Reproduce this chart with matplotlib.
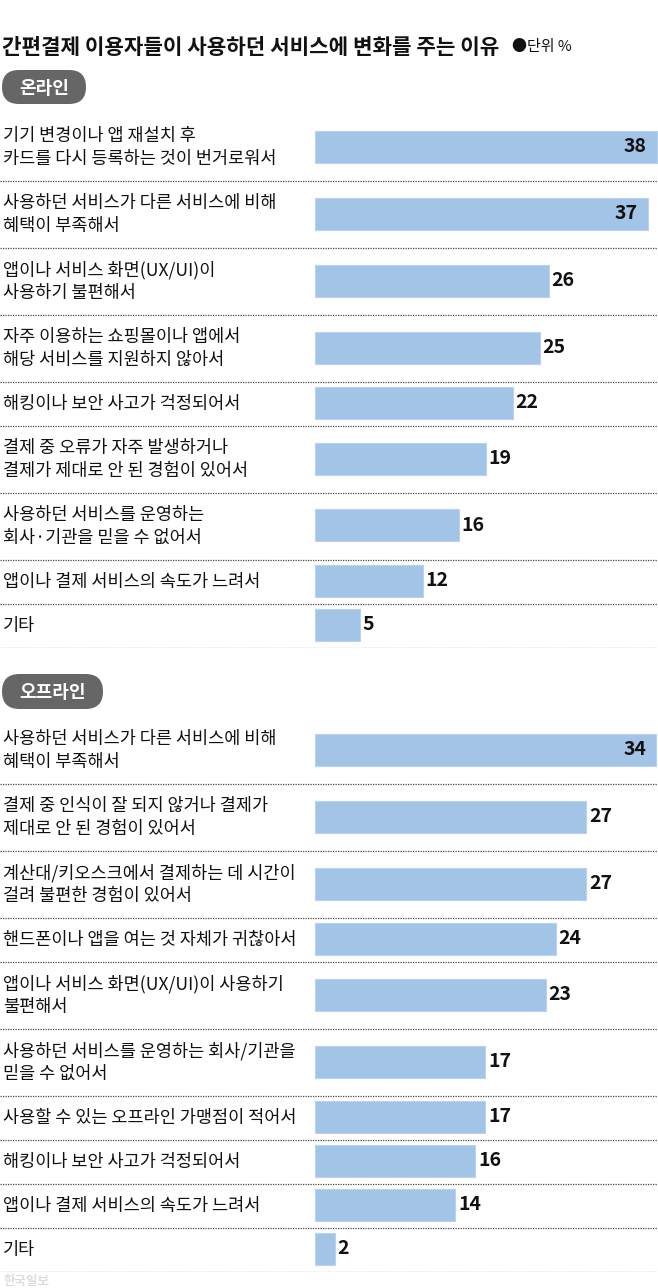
import matplotlib
matplotlib.use("Agg")
import matplotlib.pyplot as plt
from matplotlib.patches import FancyBboxPatch
from matplotlib.transforms import Affine2D, blended_transform_factory

plt.rcParams['font.family'] = ['Noto Sans CJK KR', 'DejaVu Sans']

title = "간편결제 이용자들이 사용하던 서비스에 변화를 주는 이유"
unit = "●단위 %"

online_labels = [
    "기기 변경이나 앱 재설치 후\n카드를 다시 등록하는 것이 번거로워서",
    "사용하던 서비스가 다른 서비스에 비해\n혜택이 부족해서",
    "앱이나 서비스 화면(UX/UI)이\n사용하기 불편해서",
    "자주 이용하는 쇼핑몰이나 앱에서\n해당 서비스를 지원하지 않아서",
    "해킹이나 보안 사고가 걱정되어서",
    "결제 중 오류가 자주 발생하거나\n결제가 제대로 안 된 경험이 있어서",
    "사용하던 서비스를 운영하는\n회사·기관을 믿을 수 없어서",
    "앱이나 결제 서비스의 속도가 느려서",
    "기타",
]
online_values = [38, 37, 26, 25, 22, 19, 16, 12, 5]

offline_labels = [
    "사용하던 서비스가 다른 서비스에 비해\n혜택이 부족해서",
    "결제 중 인식이 잘 되지 않거나 결제가\n제대로 안 된 경험이 있어서",
    "계산대/키오스크에서 결제하는 데 시간이\n걸려 불편한 경험이 있어서",
    "핸드폰이나 앱을 여는 것 자체가 귀찮아서",
    "앱이나 서비스 화면(UX/UI)이 사용하기\n불편해서",
    "사용하던 서비스를 운영하는 회사/기관을\n믿을 수 없어서",
    "사용할 수 있는 오프라인 가맹점이 적어서",
    "해킹이나 보안 사고가 걱정되어서",
    "앱이나 결제 서비스의 속도가 느려서",
    "기타",
]
offline_values = [34, 27, 27, 24, 23, 17, 17, 16, 14, 2]

W, H = 658, 1288
BAR_COLOR = "#a2c4e7"
fig = plt.figure(figsize=(W / 100, H / 100), dpi=100)

# pixel coords measured from top-left
pxt = Affine2D().scale(1, -1).translate(0, H).scale(1 / 100) + fig.dpi_scale_trans


def pill(x, y, w, h, text):
    box = FancyBboxPatch((x, y), w, h, boxstyle="round,pad=0,rounding_size=%g" % (h / 2),
                         transform=pxt, fc="#666666", ec="none")
    fig.add_artist(box)
    fig.text(x + w / 2, y + h / 2 + 1, text, transform=pxt, ha="center", va="center",
             color="white", fontsize=13, fontweight="bold")


def section(top, labels, values, px_per_unit):
    heights = [21 + 23 * (lab.count("\n") + 1) for lab in labels]
    total = sum(heights)
    ax = fig.add_axes([0, 1 - (top + total) / H, 1, total / H])
    x0 = 314.5
    ax.set_xlim(-x0 / px_per_unit, (W - x0) / px_per_unit)
    ax.set_ylim(total, 0)
    ax.set_axis_off()
    lt = blended_transform_factory(ax.transAxes, ax.transData)
    xmax = (W - x0) / px_per_unit
    y = 0
    for lab, v, h in zip(labels, values, heights):
        c = y + h / 2
        ax.barh(c - 1, v, height=32, color=BAR_COLOR, edgecolor="#b9d3ee", linewidth=0.8)
        ax.text(3 / W, c, lab, transform=lt, ha="left", va="center", fontsize=12.6,
                color="#111111", linespacing=1.3)
        if v > xmax - 3:
            ax.text(v - 10 / px_per_unit, c - 1, str(v), ha="right", va="center",
                    fontsize=14, fontweight="bold", color="#111111")
        else:
            ax.text(v + 3 / px_per_unit, c - 1, str(v), ha="left", va="center",
                    fontsize=14, fontweight="bold", color="#111111")
        y += h
        ax.axhline(y, color="#444444", linestyle=(0, (1, 1)), linewidth=0.9)
    return ax


fig.text(2, 47, title, transform=pxt, ha="left", va="center", fontsize=15.3,
         fontweight="bold", color="#111111")
fig.text(512, 47, unit, transform=pxt, ha="left", va="center", fontsize=10.8, color="#111111")

pill(2, 70, 84, 34, "온라인")
section(114, online_labels, online_values, 9.01)

pill(2, 674, 101, 35, "오프라인")
section(717, offline_labels, offline_values, 10.05)

fig.text(3, 1281, "한국일보", transform=pxt, ha="left", va="center", fontsize=9,
         fontweight="bold", color="#dddddd")

fig.savefig("out.png", dpi=100)
